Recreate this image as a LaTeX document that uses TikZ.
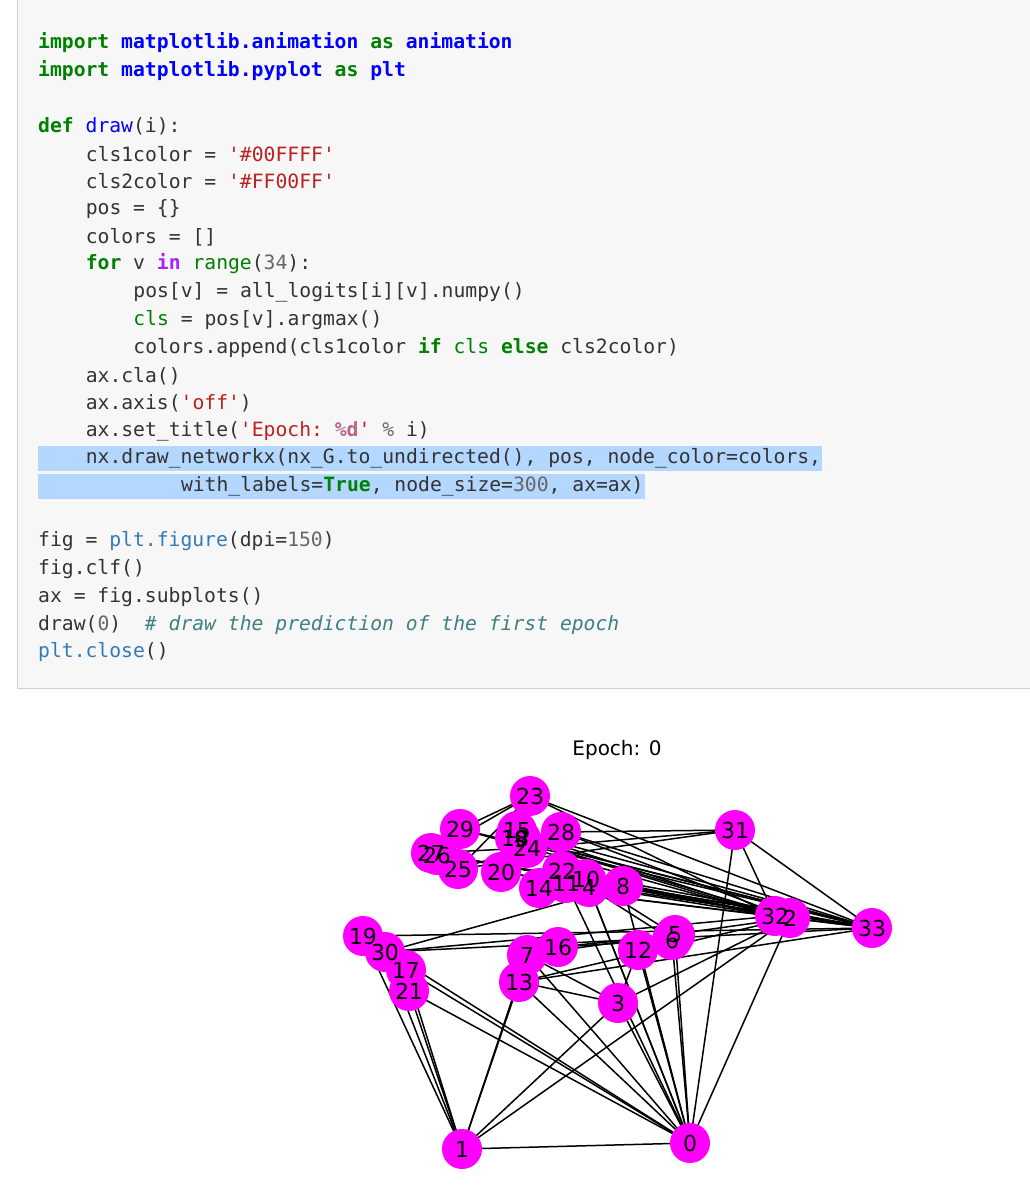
\documentclass[tikz,border=0pt]{standalone}
\usepackage{fontspec}
\setmainfont{DejaVu Sans}
\setmonofont{DejaVu Sans Mono}
\definecolor{txt}{HTML}{333333}
\definecolor{kwc}{HTML}{008000}
\definecolor{nmc}{HTML}{0000FF}
\definecolor{strc}{HTML}{BA2121}
\definecolor{opc}{HTML}{AA22FF}
\definecolor{numc}{HTML}{666666}
\definecolor{cmc}{HTML}{408080}
\definecolor{ipc}{HTML}{BB6688}
\definecolor{pltc}{HTML}{337AB7}
\definecolor{hl}{HTML}{B3D7FF}
\definecolor{cellbg}{HTML}{F7F7F7}
\definecolor{cellbd}{HTML}{CFCFCF}
\definecolor{vfill}{HTML}{FF00FF}
\newcommand\kw[1]{\textcolor{kwc}{\bfseries #1}}
\newcommand\nm[1]{\textcolor{nmc}{\bfseries #1}}
\newcommand\fn[1]{\textcolor{nmc}{#1}}
\newcommand\str[1]{\textcolor{strc}{#1}}
\newcommand\opw[1]{\textcolor{opc}{\bfseries #1}}
\newcommand\bi[1]{\textcolor{kwc}{#1}}
\newcommand\num[1]{\textcolor{numc}{#1}}
\newcommand\cm[1]{\textcolor{cmc}{\itshape #1}}
\newcommand\ip[1]{\textcolor{ipc}{\bfseries #1}}
\newcommand\pl[1]{\textcolor{pltc}{#1}}
\begin{document}
\begin{tikzpicture}[x=1pt,y=-1pt,
  code/.style={anchor=west,inner sep=0,text=txt,font=\ttfamily\fontsize{19.7}{22}\selectfont},
  vtx/.style={circle,fill=vfill,minimum size=40,inner sep=0},
  lbl/.style={inner sep=0,font=\fontsize{22}{22}\selectfont},
  edge/.style={black,line width=1.5pt}]
\useasboundingbox (0,0) rectangle (1030,1200);
\fill[white] (0,0) rectangle (1030,1200);
\draw[fill=cellbg,draw=cellbd] (17,-2) rectangle (1032,688);
\fill[hl] (38,446) rectangle (822,471);
\fill[hl] (38,474) rectangle (645,499);
\node[code] (l1) at (38,43) {\kw{import} \nm{matplotlib.animation} \kw{as} \nm{animation}};
\node[code] (l2) at (38,71) {\kw{import} \nm{matplotlib.pyplot} \kw{as} \nm{plt}};
\node[code] (l4) at (38,126) {\kw{def} \fn{draw}(i):};
\node[code] (l5) at (85.6,154) {cls1color = \str{'\#00FFFF'}};
\node[code] (l6) at (85.6,181) {cls2color = \str{'\#FF00FF'}};
\node[code] (l7) at (85.6,209) {pos = \{\}};
\node[code] (l8) at (85.6,237) {colors = []};
\node[code] (l9) at (85.6,264) {\kw{for} v \opw{in} \bi{range}(\num{34}):};
\node[code] (l10) at (133.2,292) {pos[v] = all\_logits[i][v].numpy()};
\node[code] (l11) at (133.2,320) {\bi{cls} = pos[v].argmax()};
\node[code] (l12) at (133.2,348) {colors.append(cls1color \kw{if} \bi{cls} \kw{else} cls2color)};
\node[code] (l13) at (85.6,376) {ax.cla()};
\node[code] (l14) at (85.6,403) {ax.axis(\str{'off'})};
\node[code] (l15) at (85.6,431) {ax.set\_title(\str{'Epoch: }\ip{\%d}\str{'} \textcolor{numc}{\%} i)};
\node[code] (l16) at (85.6,458) {nx.draw\_networkx(nx\_G.to\_undirected(), pos, node\_color=colors,};
\node[code] (l17) at (180.8,486) {with\_labels=\kw{True}, node\_size=\num{300}, ax=ax)};
\node[code] (l19) at (38,541) {fig = \pl{plt.figure}(dpi=\num{150})};
\node[code] (l20) at (38,569) {fig.clf()};
\node[code] (l21) at (38,597) {ax = fig.subplots()};
\node[code] (l22) at (38,625) {draw(\num{0})\ \ \cm{\# draw the prediction of the first epoch}};
\node[code] (l23) at (38,652) {\pl{plt.close}()};
\node[font=\fontsize{20}{20}\selectfont] (title) at (617,750) {Epoch: 0};
\foreach \n/\x/\y in {0/690/1143,1/462/1149,2/790/918,3/618/1003,4/589/887,5/675/935,6/672/940,
 7/527/955,8/623/886,9/521/839,10/586/879,11/566/883,12/638/950,13/519/982,14/539/888,15/517/831,
 16/558/947,17/406/970,18/515/838,19/363/936,20/501/872,21/409/991,22/562/871,23/530/796,24/527/848,
 25/458/869,26/437/855,27/431/853,28/561/832,29/460/829,30/385/952,31/735/830,32/775/916,33/872/928}
 {\coordinate (c\n) at (\x,\y);}
\foreach \a/\b in {0/1,0/2,0/3,0/4,0/5,0/6,0/7,0/8,0/10,0/11,0/12,0/13,0/17,0/19,0/21,0/31,
 1/2,1/3,1/7,1/13,1/17,1/19,1/21,1/30,2/3,2/7,2/8,2/9,2/13,2/27,2/28,2/32,3/7,3/12,3/13,
 4/6,4/10,5/6,5/10,5/16,6/16,8/30,8/32,8/33,9/33,13/33,14/32,14/33,15/32,15/33,18/32,18/33,
 19/33,20/32,20/33,22/32,22/33,23/25,23/27,23/29,23/32,23/33,24/25,24/27,24/31,25/31,
 26/29,26/33,27/33,28/31,28/33,29/32,29/33,30/32,30/33,31/32,31/33,32/33}
 {\draw[edge] (c\a) -- (c\b);}
\foreach \n in {0,...,33}
 {\node[vtx] (n\n) at (c\n) {};}
\foreach \n in {0,...,33}
 {\node[lbl] (t\n) at (c\n) {\n};}
\end{tikzpicture}
\end{document}
